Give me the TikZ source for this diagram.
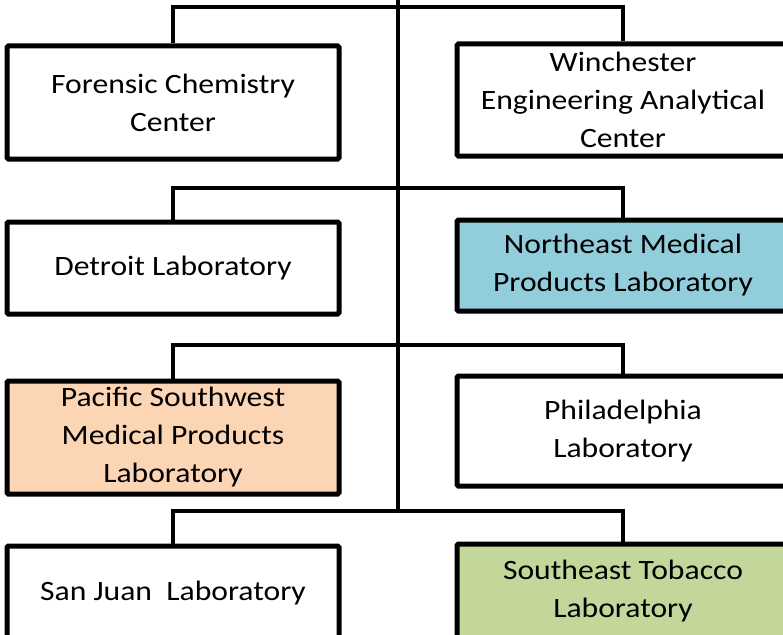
\documentclass[tikz,border=0pt]{standalone}
\usepackage{fontspec}
\setmainfont{Carlito}[FakeStretch=1.13]
\definecolor{nemblue}{RGB}{146,205,220}
\definecolor{pswpeach}{RGB}{252,213,180}
\definecolor{setgreen}{RGB}{196,215,155}
\begin{document}
\begin{tikzpicture}[x=1pt,y=-1pt,
  box/.style={draw=black, line width=5pt, rounded corners=1.5pt, minimum width=332pt,
    align=center, inner sep=0pt, fill=white, font=\fontsize{28}{38}\selectfont},
  conn/.style={line width=4.5pt}]
\useasboundingbox (0,0) rectangle (783,634);
\clip (0,0) rectangle (783,634);
\fill[white] (0,0) rectangle (783,634);
% nodes
\node[box, minimum height=113pt] (fcc) at (173,102.5) {Forensic Chemistry\\Center};
\node[box, minimum height=112pt] (win) at (623,100) {Winchester\\Engineering Analytical\\Center};
\node[box, minimum height=92pt] (det) at (173,268) {Detroit Laboratory};
\node[box, minimum height=91pt, fill=nemblue] (nem) at (623,265.5) {Northeast Medical\\Products Laboratory};
\node[box, minimum height=113pt, fill=pswpeach] (psw) at (173,437.5) {Pacific Southwest\\Medical Products\\Laboratory};
\node[box, minimum height=110pt] (phl) at (623,431) {Philadelphia\\Laboratory};
\node[box, minimum height=94pt] (sj) at (173,593) {San Juan\ \ Laboratory};
\node[box, minimum height=94pt, fill=setgreen] (set) at (623,591) {Southeast Tobacco\\Laboratory};
% connectors
\coordinate (top) at (398,-5);
\coordinate (b1) at (398,7);
\coordinate (b2) at (398,188);
\coordinate (b3) at (398,345);
\coordinate (b4) at (398,511);
\draw[conn] (top) -- (b4);
\draw[conn] (fcc.north) |- (b1) -| (win.north);
\draw[conn] (det.north) |- (b2) -| (nem.north);
\draw[conn] (psw.north) |- (b3) -| (phl.north);
\draw[conn] (sj.north) |- (b4) -| (set.north);
\end{tikzpicture}
\end{document}
